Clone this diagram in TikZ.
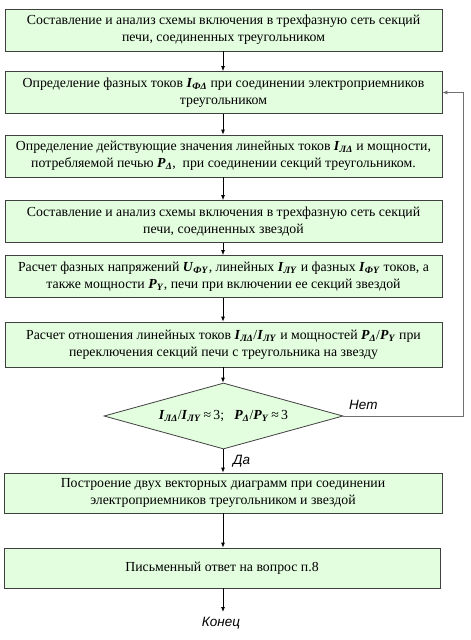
\documentclass[tikz,border=0pt]{standalone}
\usepackage{fontspec}
\setmainfont{Liberation Serif}
\newfontfamily\lsans{Liberation Sans}
\usetikzlibrary{shapes.geometric,arrows.meta}
\definecolor{boxfill}{HTML}{E3FDDF}
\definecolor{boxline}{HTML}{404040}
\definecolor{fbline}{HTML}{707070}
\newcommand{\bi}[1]{\textbf{\textit{#1}}}
\newcommand{\vsub}[2]{\bi{#1}\textsubscript{\bi{#2}}}
\tikzset{
  stepbox/.style={draw=boxline, line width=0.8pt, fill=boxfill, minimum width=437pt, minimum height=42pt, align=center, font=\fontsize{13.8}{17}\selectfont, inner sep=2pt},
  decis/.style={draw=boxline, line width=0.8pt, fill=boxfill, diamond, aspect=3.6, minimum width=239pt, minimum height=66pt, inner sep=0pt, font=\fontsize{13.8}{17}\selectfont},
  flow/.style={draw=black, line width=0.8pt, -{Latex[length=5pt,width=4pt]}},
  lbl/.style={font=\lsans\itshape\fontsize{13.5}{15}\selectfont, inner sep=0pt}
}
\begin{document}
\begin{tikzpicture}[x=1pt,y=-1pt]
\useasboundingbox (0,0) rectangle (471,640);
\node[stepbox] (b1) at (223.5,30) {Составление и анализ схемы включения в трехфазную сеть секций\\печи, соединенных треугольником};
\node[stepbox] (b2) at (223.5,92.5) {Определение фазных токов \vsub{I}{ФΔ} при соединении электроприемников\\треугольником};
\node[stepbox] (b3) at (223.5,156) {Определение действующие значения линейных токов \vsub{I}{ЛΔ} и мощности,\\потребляемой печью \vsub{P}{Δ},~ при соединении секций треугольником.};
\node[stepbox] (b4) at (223.5,221.5) {Составление и анализ схемы включения в трехфазную сеть секций\\печи, соединенных звездой};
\node[stepbox] (b5) at (223.5,276.5) {Расчет фазных напряжений \vsub{U}{ФY}, линейных \vsub{I}{ЛY} и фазных \vsub{I}{ФY} токов, а\\также мощности \vsub{P}{Y}, печи при включении ее секций звездой};
\node[stepbox, minimum height=45pt] (b6) at (223.5,344.5) {Расчет отношения линейных токов \vsub{I}{ЛΔ}/\vsub{I}{ЛY} и мощностей \vsub{P}{Δ}/\vsub{P}{Y} при\\переключения секций печи с треугольника на звезду};
\node[decis] (d) at (223.5,416) {\vsub{I}{ЛΔ}/\vsub{I}{ЛY}\,≈\,3;~~ \vsub{P}{Δ}/\vsub{P}{Y}\,≈\,3};
\node[stepbox, minimum height=40pt, minimum width=438pt] (b7) at (223,493) {Построение двух векторных диаграмм при соединении\\электроприемников треугольником и звездой};
\node[stepbox, minimum height=40pt, minimum width=436pt] (b8) at (222,568) {Письменный ответ на вопрос п.8};
\node[lbl] (end) at (221,623) {Конец};
\node[lbl, anchor=west] (no) at (349,405) {Нет};
\node[lbl, anchor=west] (yes) at (233,461) {Да};
\coordinate (fb1) at (463,416);
\coordinate (fb2) at (463,92.5);
\draw[flow] (b1.south -| 223,0) -- (b2.north -| 223,0);
\draw[flow] (b2.south -| 223,0) -- (b3.north -| 223,0);
\draw[flow] (b3.south -| 223,0) -- (b4.north -| 223,0);
\draw[flow] (b4.south -| 223,0) -- (b5.north -| 223,0);
\draw[flow] (b5.south -| 223,0) -- (b6.north -| 223,0);
\draw[flow] (b6.south -| 223,0) -- (d.north -| 223,0);
\draw[flow] (d.south -| 223,0) -- (b7.north -| 223,0);
\draw[flow] (b7.south -| 223,0) -- (b8.north -| 223,0);
\draw[flow] (b8.south -| 223,0) -- (223,612);
\draw[flow, draw=fbline] (d.east) -- (fb1) -- (fb2) -- (b2.east);
\end{tikzpicture}
\end{document}
